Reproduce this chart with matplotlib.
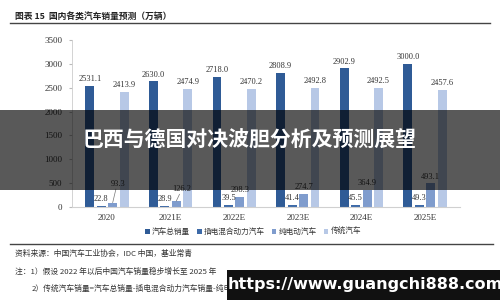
import numpy as np
import matplotlib.pyplot as plt
from matplotlib.patches import Rectangle

plt.rcParams['font.family'] = ['Noto Sans CJK SC', 'DejaVu Sans']

# data (万辆)
years = ['2020', '2021E', '2022E', '2023E', '2024E', '2025E']
total = [2531.1, 2630.0, 2718.0, 2808.9, 2902.9, 3000.0]
phev = [22.8, 28.9, 39.5, 41.4, 45.5, 49.3]
bev = [93.3, 126.2, 208.3, 274.7, 364.9, 493.1]
trad = [2413.9, 2474.9, 2470.2, 2492.8, 2492.5, 2457.6]
series_names = ['汽车总销量', '插电混合动力汽车', '纯电动汽车', '传统汽车']

colors = ['#2f5b96', '#3d6aa8', '#7f9ccd', '#b7c8e6']
serif = ['Liberation Serif', 'DejaVu Serif']

fig = plt.figure(figsize=(5, 3), dpi=100)
fig.patch.set_facecolor('white')
ax = fig.add_axes([0.144, 0.31, 0.776, 0.557])

x = np.arange(len(years))
w = 0.14
offsets = [-0.27, -0.09, 0.09, 0.27]
all_series = [total, phev, bev, trad]
for vals, off, c, name in zip(all_series, offsets, colors, series_names):
    ax.bar(x + off, vals, width=w, color=c, label=name, zorder=2)

# value labels
for i in range(len(years)):
    for s, (vals, off) in enumerate(zip(all_series, offsets)):
        v = vals[i]
        if s == 2 and i <= 1:
            # labels lifted with a small leader line
            lift = 300 if i == 0 else 160
            ax.plot([x[i] + off, x[i] + off + 0.05], [v, v + lift - 20],
                    color='#777777', lw=0.5, zorder=3)
            ax.text(x[i] + off + 0.09, v + lift, f'{v:.1f}', ha='center', va='bottom',
                    fontsize=6, family=serif, color='#333333')
            continue
        ax.annotate(f'{v:.1f}', (x[i] + off, v), xytext=(0, 2), textcoords='offset points',
                    ha='center', va='bottom', fontsize=6, family=serif, color='#333333')

ax.set_xlim(-0.55, 5.55)
ax.set_ylim(0, 3500)
ax.set_yticks(range(0, 3501, 500))
ax.set_xticks(x)
ax.set_xticklabels(years, family=serif, fontsize=6.5, color='#333333')
for lbl in ax.get_yticklabels():
    lbl.set_family(serif)
    lbl.set_fontsize(6.5)
    lbl.set_color('#333333')
ax.tick_params(axis='x', length=0, pad=5)
ax.tick_params(axis='y', length=2, color='#bbbbbb', pad=5)
for sp in ['top', 'right']:
    ax.spines[sp].set_visible(False)
ax.spines['left'].set_color('#cccccc')
ax.spines['bottom'].set_color('#d0d0d0')
ax.spines['left'].set_linewidth(0.6)
ax.spines['bottom'].set_linewidth(0.8)

fig.legend(loc='center', bbox_to_anchor=(0.506, 0.227), ncol=4, frameon=False,
           fontsize=5.5, handlelength=0.6, handleheight=0.6, handletextpad=0.3,
           columnspacing=0.9, labelcolor='#333333')

# header and footer text
fig.text(0.03, 0.943, '图表 15  国内各类汽车销量预测（万辆）', fontsize=6.3, fontweight='bold',
         color='#222222', va='center')
fig.add_artist(plt.Line2D([0.02, 0.98], [0.925, 0.925], color='#444444', lw=1.0))
fig.add_artist(plt.Line2D([0.02, 0.985], [0.187, 0.187], color='#444444', lw=1.0))
fig.text(0.03, 0.153, '资料来源：中国汽车工业协会，IDC 中国，基业常青', fontsize=5.6,
         color='#333333', va='center')
fig.text(0.03, 0.093, '注：1）假设 2022 年以后中国汽车销量稳步增长至 2025 年', fontsize=5.6,
         color='#333333', va='center')
fig.text(0.064, 0.037, '2）传统汽车销量=汽车总销量-插电混合动力汽车销量-纯电动汽车销量',
         fontsize=5.6, color='#333333', va='center', zorder=5)

# overlay banner
fig.add_artist(Rectangle((0, 0.367), 1, 0.266, transform=fig.transFigure,
                         facecolor='black', alpha=0.65, edgecolor='none', zorder=10))
fig.text(0.5, 0.537, '巴西与德国对决波胆分析及预测展望', fontsize=15, fontweight='bold',
         color='white', ha='center', va='center', zorder=11)

# url box
fig.add_artist(Rectangle((0.454, 0), 0.546, 0.1, transform=fig.transFigure,
                         facecolor='#111111', edgecolor='none', zorder=10))
fig.text(0.73, 0.05, 'https://www.guangchi888.com', fontsize=11.5, fontweight='bold',
         color='white', ha='center', va='center', zorder=11, family='DejaVu Sans')

fig.savefig('out.png', dpi=100)
